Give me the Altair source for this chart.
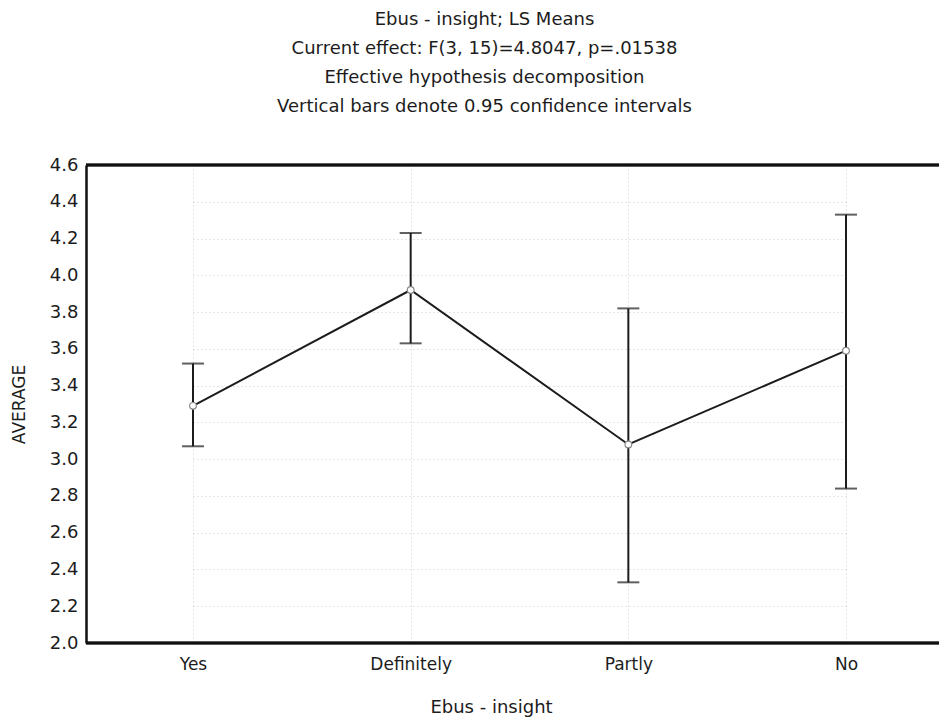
import altair as alt
import pandas as pd

categories = ["Yes", "Definitely", "Partly", "No"]
means = [3.29, 3.92, 3.08, 3.59]
ci_low = [3.07, 3.63, 2.33, 2.84]
ci_high = [3.52, 4.23, 3.82, 4.33]
y_ticks = [2.0, 2.2, 2.4, 2.6, 2.8, 3.0, 3.2, 3.4, 3.6, 3.8, 4.0, 4.2, 4.4, 4.6]
y_top = 4.6
y_bottom = 2.0
title_lines = [
    "Ebus - insight; LS Means",
    "Current effect: F(3, 15)=4.8047, p=.01538",
    "Effective hypothesis decomposition",
    "Vertical bars denote 0.95 confidence intervals",
]

df = pd.DataFrame({"cat": categories, "mean": means, "lo": ci_low, "hi": ci_high})

FONT = "DejaVu Sans"
INK = "#1c1c1c"

x = alt.X(
    "cat:N",
    sort=categories,
    scale=alt.Scale(type="point", padding=0, range=[107, 760]),
    axis=alt.Axis(
        title="Ebus - insight",
        labelAngle=0,
        labelFont=FONT,
        labelFontSize=17,
        labelColor=INK,
        labelPadding=13,
        labelOverlap=False,
        ticks=False,
        domain=False,
        grid=True,
        gridColor="#cccccc",
        gridDash=[1, 3],
        gridWidth=1,
        titleFont=FONT,
        titleFontSize=18,
        titleFontWeight="normal",
        titleColor=INK,
        titleX=405,
        titleY=64,
        titleAlign="center",
        titleBaseline="middle",
    ),
)

y_scale = alt.Scale(domain=[2.0, 4.6], nice=False, zero=False)
y_axis = alt.Axis(
    title="AVERAGE",
    values=y_ticks,
    format=".1f",
    labelFont=FONT,
    labelFontSize=18,
    labelColor=INK,
    labelPadding=8,
    labelOverlap=False,
    labelBound=False,
    labelFlush=False,
    ticks=False,
    domain=True,
    domainColor="#111111",
    domainWidth=2.5,
    grid=True,
    gridColor="#cccccc",
    gridDash=[1, 3],
    gridWidth=1,
    titleFont=FONT,
    titleFontSize=17,
    titleFontWeight="normal",
    titleColor=INK,
    titleX=-67,
    titleY=239,
    titleAngle=-90,
    titleAlign="center",
    titleBaseline="middle",
)

base = alt.Chart(df)

bars = base.mark_rule(color=INK, strokeWidth=2).encode(
    x=x, y=alt.Y("lo:Q", scale=y_scale, axis=y_axis), y2="hi:Q"
)
cap_lo = base.mark_tick(color=INK, size=22, thickness=2, orient="horizontal").encode(
    x=x, y=alt.Y("lo:Q", scale=y_scale, axis=y_axis)
)
cap_hi = base.mark_tick(color=INK, size=22, thickness=2, orient="horizontal").encode(
    x=x, y=alt.Y("hi:Q", scale=y_scale, axis=y_axis)
)
line = base.mark_line(color=INK, strokeWidth=2).encode(
    x=x, y=alt.Y("mean:Q", scale=y_scale, axis=y_axis)
)
pts = base.mark_point(
    filled=True, fill="white", stroke="#888888", strokeWidth=1.2, size=45, opacity=1
).encode(x=x, y=alt.Y("mean:Q", scale=y_scale, axis=y_axis))
top_border = base.mark_rule(color="#111111", strokeWidth=2.5).encode(
    y=alt.datum(y_top, scale=y_scale, axis=y_axis)
)
bottom_border = base.mark_rule(color="#111111", strokeWidth=2.5).encode(
    y=alt.datum(y_bottom, scale=y_scale, axis=y_axis)
)

chart = (
    alt.layer(bars, cap_lo, cap_hi, line, pts, top_border, bottom_border)
    .properties(
        width=853,
        height=478,
        background="white",
        autosize=alt.AutoSizeParams(type="none"),
        padding={"left": 78, "top": 157, "right": 0, "bottom": 74},
        title=alt.TitleParams(
            text=title_lines,
            font=FONT,
            fontSize=18,
            fontWeight="normal",
            color=INK,
            lineHeight=29,
            anchor="middle",
            dx=-28,
            offset=40,
        ),
    )
    .configure_view(stroke=None)
)

chart.save("out.html", embed_options={"renderer": "svg", "actions": False})
